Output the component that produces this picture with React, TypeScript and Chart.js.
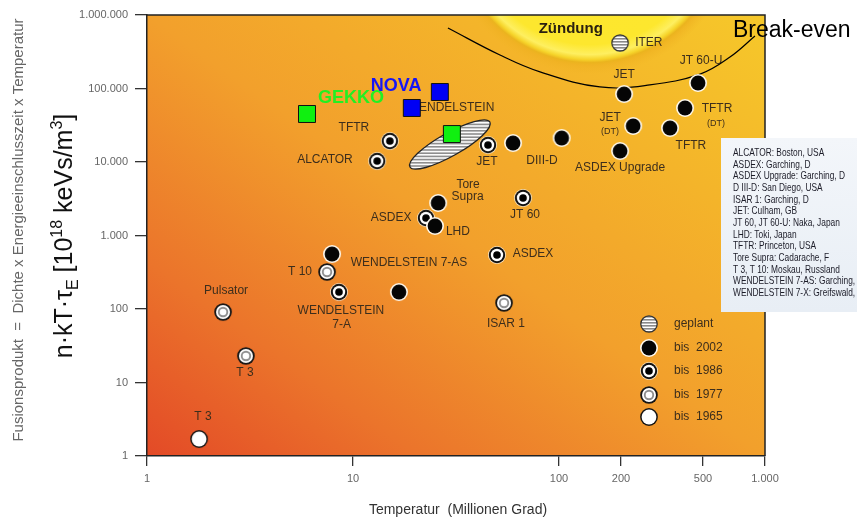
import React, { useEffect, useRef } from 'react';
import { Chart, registerables } from 'chart.js';
Chart.register(...registerables);

const FONT = '"Liberation Sans", Arial, Helvetica, sans-serif';

// axis ticks
const xTickValues = [1, 10, 100, 200, 500, 1000];
const yTickValues = [1, 10, 100, 1000, 10000, 100000, 1000000];

// experiments (temperature in million degrees, fusion product)
const plannedPoints = [{ x: 198, y: 416000 }]; // ITER
const points2002 = [
  { x: 207, y: 84100 }, // JET
  { x: 473, y: 119000 }, // JT 60-U
  { x: 409, y: 54300 }, // TFTR (DT)
  { x: 229, y: 30900 }, // JET (DT)
  { x: 346, y: 29000 }, // TFTR
  { x: 198, y: 14100 }, // ASDEX Upgrade
  { x: 59.8, y: 18100 }, // DIII-D
  { x: 103, y: 21200 }, // DIII-D
  { x: 25.9, y: 2770 }, // Tore Supra
  { x: 25.0, y: 1350 }, // LHD
  { x: 7.91, y: 560 }, // W 7-AS
  { x: 16.7, y: 170 }, // W 7-AS
];
const points1986 = [
  { x: 45.2, y: 17000 }, // JET
  { x: 15.1, y: 19300 }, // TFTR
  { x: 13.1, y: 10300 }, // ALCATOR
  { x: 22.6, y: 1730 }, // ASDEX
  { x: 66.9, y: 3240 }, // JT 60
  { x: 50.0, y: 543 }, // ASDEX
  { x: 8.55, y: 170 }, // W 7-A
];
const points1977 = [
  { x: 7.48, y: 319 }, // T 10
  { x: 54.1, y: 121 }, // ISAR 1
  { x: 2.34, y: 91 }, // Pulsator
  { x: 3.02, y: 23.0 }, // T 3
];
const points1965 = [{ x: 1.79, y: 1.7 }]; // T 3
const gekkoPoints = [
  { x: 5.98, y: 45000 },
  { x: 30.2, y: 24000 },
];
const novaPoints = [
  { x: 19.3, y: 54300 },
  { x: 26.4, y: 89600 },
];
// Wendelstein 7-X planned region (ellipse ends)
const w7xEnds = [
  { x: 18.9, y: 8550 },
  { x: 46.2, y: 35000 },
];
// Break-even curve
const breakEvenX = [28.9, 51.7, 80.9, 158, 276, 484, 676, 894];
const breakEvenY = [665000, 285000, 168000, 105000, 112000, 157000, 268000, 518000];
// Ignition region centre
const ignitionCentre = { x: 141, y: 1.5e7 };

// annotation labels
const labelTexts = [
  'Zündung', 'ITER', 'JET', 'JT 60-U', 'TFTR', '(DT)', 'JET', '(DT)', 'TFTR', 'ASDEX Upgrade',
  'DIII-D', 'JET', 'Tore', 'Supra', 'JT 60', 'LHD', 'ASDEX', 'ASDEX', 'TFTR', 'ALCATOR',
  'WENDELSTEIN', 'WENDELSTEIN 7-AS', 'T 10', 'WENDELSTEIN', '7-A', 'Pulsator', 'T 3', 'T 3', 'ISAR 1',
  'GEKKO', 'NOVA',
];
const labelX = [
  114, 273, 207, 489, 585, 578, 177, 177, 437, 198,
  82.7, 44.7, 36.2, 36, 68.4, 32.3, 15.3, 74.8, 10.1, 7.31,
  29.9, 18.7, 5.53, 8.74, 8.8, 2.42, 2.99, 1.87, 55.3,
  9.78, 16.2,
];
const labelY = [
  645000, 416000, 153000, 237000, 52600, 33900, 39700, 25600, 16500, 8290,
  10300, 10000, 4860, 3340, 1900, 1115, 1730, 560, 29000, 10600,
  54300, 423, 319, 94, 60.6, 176, 13.5, 3.4, 62.5,
  74300, 108000,
];
const labelKind = [
  'title', 'std', 'std', 'std', 'std', 'small', 'std', 'small', 'std', 'std',
  'std', 'std', 'std', 'std', 'std', 'std', 'std', 'std', 'std', 'std',
  'std', 'std', 'std', 'std', 'std', 'std', 'std', 'std', 'std',
  'gekko', 'nova',
];

const legendLabels = ['geplant', 'bis  2002', 'bis  1986', 'bis  1977', 'bis  1965'];
const infoLines = [
  'ALCATOR: Boston, USA',
  'ASDEX: Garching, D',
  'ASDEX Upgrade: Garching, D',
  'D III-D: San Diego, USA',
  'ISAR 1: Garching, D',
  'JET: Culham, GB',
  'JT 60, JT 60-U: Naka, Japan',
  'LHD: Toki, Japan',
  'TFTR: Princeton, USA',
  'Tore Supra: Cadarache, F',
  'T 3, T 10: Moskau, Russland',
  'WENDELSTEIN 7-AS: Garching, D',
  'WENDELSTEIN 7-X: Greifswald, D',
];

const fmt = (v: number) => String(Math.round(v)).replace(/\B(?=(\d{3})+(?!\d))/g, '.');

function makeMarker(kind: string): HTMLCanvasElement {
  const c = document.createElement('canvas');
  c.width = 20;
  c.height = 20;
  const g = c.getContext('2d')!;
  const cx = 10, cy = 10;
  const circ = (r: number, col: string) => {
    g.beginPath();
    g.arc(cx, cy, r, 0, Math.PI * 2);
    g.fillStyle = col;
    g.fill();
  };
  if (kind === '2002') {
    circ(9, '#fffaf0');
    circ(7.4, '#050505');
  } else if (kind === '1986') {
    circ(9, 'rgba(255,250,240,0.8)');
    circ(8.2, '#111');
    circ(6.2, '#fff');
    circ(3.8, '#000');
  } else if (kind === '1977') {
    circ(8.8, '#151515');
    circ(7, '#fff');
    circ(5.2, '#8e8e8e');
    circ(3.3, '#fff');
  } else if (kind === '1965') {
    circ(8.9, '#151515');
    circ(7.4, '#fff');
  } else {
    g.save();
    g.beginPath();
    g.arc(cx, cy, 8.2, 0, Math.PI * 2);
    g.clip();
    g.fillStyle = '#fff';
    g.fillRect(0, 0, 20, 20);
    g.fillStyle = '#8a8a8a';
    for (let y = 2; y < 19; y += 3) g.fillRect(0, y, 20, 1.6);
    g.restore();
    g.beginPath();
    g.arc(cx, cy, 8.2, 0, Math.PI * 2);
    g.strokeStyle = '#333';
    g.lineWidth = 1.3;
    g.stroke();
  }
  return c;
}

const labelStyle: Record<string, { font: string; color: string }> = {
  std: { font: `12px ${FONT}`, color: '#3d2e1c' },
  small: { font: `9px ${FONT}`, color: '#3d2e1c' },
  title: { font: `bold 15px ${FONT}`, color: '#2a2010' },
  gekko: { font: `bold 18px ${FONT}`, color: '#22f022' },
  nova: { font: `bold 18px ${FONT}`, color: '#1515f5' },
};

export default function App() {
  const ref = useRef<HTMLCanvasElement>(null);
  useEffect(() => {
    const canvas = ref.current!;
    const mk = {
      planned: makeMarker('planned'),
      m2002: makeMarker('2002'),
      m1986: makeMarker('1986'),
      m1977: makeMarker('1977'),
      m1965: makeMarker('1965'),
    };
    const legendMarkers = [mk.planned, mk.m2002, mk.m1986, mk.m1977, mk.m1965];

    const bgPlugin = {
      id: 'bg',
      beforeDraw(chart: any) {
        const { ctx, chartArea: a } = chart;
        const w = a.right - a.left, h = a.bottom - a.top;
        const k = (w * h + h * w) / (h * h + w * w);
        const gr = ctx.createLinearGradient(a.left, a.bottom, a.left + h * k, a.bottom - w * k);
        gr.addColorStop(0, '#e34a27');
        gr.addColorStop(0.22, '#eb742b');
        gr.addColorStop(0.5, '#f2a02c');
        gr.addColorStop(0.75, '#f4b42a');
        gr.addColorStop(1, '#f6c82a');
        ctx.save();
        ctx.fillStyle = gr;
        ctx.fillRect(a.left, a.top, w, h);
        ctx.restore();
      },
      beforeDatasetsDraw(chart: any) {
        const { ctx, chartArea: a, scales } = chart;
        const xs = scales.x, ys = scales.y;
        ctx.save();
        ctx.beginPath();
        ctx.rect(a.left, a.top, a.right - a.left, a.bottom - a.top);
        ctx.clip();
        // ignition sun
        const sx = xs.getPixelForValue(ignitionCentre.x);
        const sy = ys.getPixelForValue(ignitionCentre.y);
        const R = 134, G = 12, Rt = R + G;
        const rg = ctx.createRadialGradient(sx, sy, 0, sx, sy, Rt);
        rg.addColorStop(0, '#fde62c');
        rg.addColorStop((R - 18) / Rt, '#fde72e');
        rg.addColorStop((R - 8) / Rt, '#feef60');
        rg.addColorStop((R - 3) / Rt, '#f6d42a');
        rg.addColorStop(R / Rt, '#ebb41e');
        rg.addColorStop((R + 3) / Rt, 'rgba(238,176,32,0.6)');
        rg.addColorStop(1, 'rgba(240,180,35,0)');
        ctx.fillStyle = rg;
        ctx.beginPath();
        ctx.arc(sx, sy, Rt, 0, Math.PI * 2);
        ctx.fill();
        // W7-X planned ellipse
        const p1 = { x: xs.getPixelForValue(w7xEnds[0].x), y: ys.getPixelForValue(w7xEnds[0].y) };
        const p2 = { x: xs.getPixelForValue(w7xEnds[1].x), y: ys.getPixelForValue(w7xEnds[1].y) };
        const ecx = (p1.x + p2.x) / 2, ecy = (p1.y + p2.y) / 2;
        const ang = Math.atan2(p2.y - p1.y, p2.x - p1.x);
        const ea = Math.hypot(p2.x - p1.x, p2.y - p1.y) / 2;
        const eb = 11.5;
        ctx.save();
        ctx.beginPath();
        ctx.ellipse(ecx, ecy, ea, eb, ang, 0, Math.PI * 2);
        ctx.clip();
        ctx.fillStyle = '#fbfbfb';
        ctx.fillRect(ecx - ea - 2, ecy - ea - 2, 2 * ea + 4, 2 * ea + 4);
        ctx.fillStyle = '#8e8e8e';
        for (let y = Math.floor(ecy - ea); y < ecy + ea; y += 3.2) ctx.fillRect(ecx - ea - 2, y, 2 * ea + 4, 1.6);
        ctx.restore();
        ctx.beginPath();
        ctx.ellipse(ecx, ecy, ea, eb, ang, 0, Math.PI * 2);
        ctx.strokeStyle = '#222';
        ctx.lineWidth = 1.3;
        ctx.stroke();
        // labels
        ctx.textAlign = 'center';
        ctx.textBaseline = 'middle';
        labelTexts.forEach((t, i) => {
          const st = labelStyle[labelKind[i]];
          ctx.font = st.font;
          ctx.fillStyle = st.color;
          ctx.fillText(t, xs.getPixelForValue(labelX[i]), ys.getPixelForValue(labelY[i]));
        });
        ctx.restore();
      },
      afterDatasetsDraw(chart: any) {
        const { ctx, chartArea: a } = chart;
        ctx.save();
        // frame top/right
        ctx.strokeStyle = '#222';
        ctx.lineWidth = 1.5;
        ctx.beginPath();
        ctx.moveTo(a.left, a.top);
        ctx.lineTo(a.right, a.top);
        ctx.lineTo(a.right, a.bottom);
        ctx.stroke();
        // in-plot legend
        const lys = [132, 108, 85, 61, 39];
        ctx.font = `12px ${FONT}`;
        ctx.fillStyle = '#3d2e1c';
        ctx.textAlign = 'left';
        ctx.textBaseline = 'middle';
        legendLabels.forEach((t, i) => {
          const y = a.bottom - lys[i];
          ctx.drawImage(legendMarkers[i], a.right - 116 - 10, y - 10);
          ctx.fillText(t, a.right - 91, y);
        });
        ctx.restore();
      },
      afterDraw(chart: any) {
        const { ctx, chartArea: a, width } = chart;
        ctx.save();
        // info box
        const bx = a.right - 44, by = a.top + 123, bh = 174;
        const ig = ctx.createLinearGradient(bx, by, bx, by + bh);
        ig.addColorStop(0, '#f3f6fa');
        ig.addColorStop(1, '#e8eef5');
        ctx.fillStyle = ig;
        ctx.fillRect(bx, by, width - bx, bh);
        ctx.fillStyle = '#1c1c28';
        ctx.textAlign = 'left';
        ctx.textBaseline = 'middle';
        ctx.font = `11px ${FONT}`;
        infoLines.forEach((t, i) => {
          ctx.save();
          ctx.translate(bx + 12, by + 15 + i * 11.67);
          ctx.scale(0.76, 1);
          ctx.fillText(t, 0, 0);
          ctx.restore();
        });
        // Break-even label
        ctx.font = `23px ${FONT}`;
        ctx.fillStyle = '#000';
        ctx.fillText('Break-even', a.right - 32, a.top + 16);
        // x title
        ctx.font = `14px ${FONT}`;
        ctx.fillStyle = '#333';
        ctx.textAlign = 'center';
        ctx.fillText('Temperatur  (Millionen Grad)', 458, 510);
        // small y title
        ctx.save();
        ctx.translate(19, 230);
        ctx.rotate(-Math.PI / 2);
        ctx.font = `15px ${FONT}`;
        ctx.fillStyle = '#666';
        ctx.textAlign = 'center';
        ctx.textBaseline = 'middle';
        ctx.fillText('Fusionsprodukt  =  Dichte x Energieeinschlusszeit x Temperatur', 0, 0);
        ctx.restore();
        // big y title with sub/superscripts
        ctx.save();
        ctx.translate(72, 236);
        ctx.rotate(-Math.PI / 2);
        ctx.fillStyle = '#111';
        ctx.textAlign = 'left';
        ctx.textBaseline = 'alphabetic';
        const big = `25px ${FONT}`, sm = `16px ${FONT}`;
        const parts: [string, string, number][] = [
          ['n·kT·τ', big, 0],
          ['E', sm, 6],
          [' [10', big, 0],
          ['18', sm, -10],
          [' keVs/m', big, 0],
          ['3', sm, -10],
          [']', big, 0],
        ];
        let total = 0;
        parts.forEach(([t, f]) => { ctx.font = f; total += ctx.measureText(t).width; });
        let cx = -total / 2;
        parts.forEach(([t, f, dy]) => {
          ctx.font = f;
          ctx.fillText(t, cx, dy);
          cx += ctx.measureText(t).width;
        });
        ctx.restore();
        ctx.restore();
      },
    };

    const chart = new Chart(canvas, {
      type: 'scatter',
      data: {
        datasets: [
          { label: 'GEKKO', data: gekkoPoints, pointStyle: 'rect', pointRadius: 12, backgroundColor: '#10f010', borderColor: '#111', borderWidth: 1, order: 0 },
          { label: 'NOVA', data: novaPoints, pointStyle: 'rect', pointRadius: 12, backgroundColor: '#0000f5', borderColor: '#111', borderWidth: 1, order: 0 },
          { label: 'geplant', data: plannedPoints, pointStyle: mk.planned, order: 1 },
          { label: 'bis 2002', data: points2002, pointStyle: mk.m2002, order: 2 },
          { label: 'bis 1986', data: points1986, pointStyle: mk.m1986, order: 3 },
          { label: 'bis 1977', data: points1977, pointStyle: mk.m1977, order: 4 },
          { label: 'bis 1965', data: points1965, pointStyle: mk.m1965, order: 5 },
          {
            label: 'Break-even',
            data: breakEvenX.map((x, i) => ({ x, y: breakEvenY[i] })),
            showLine: true,
            pointRadius: 0,
            borderColor: '#000',
            borderWidth: 1.2,
            tension: 0.4,
            order: 6,
          },
        ] as any,
      },
      options: {
        animation: false,
        responsive: true,
        maintainAspectRatio: false,
        layout: { padding: { left: 0, top: 15, right: 92, bottom: 0 } },
        plugins: { legend: { display: false }, tooltip: { enabled: false } },
        events: [],
        scales: {
          x: {
            type: 'logarithmic',
            min: 1,
            max: 1000,
            afterBuildTicks: (s: any) => { s.ticks = xTickValues.map((v) => ({ value: v })); },
            afterFit: (s: any) => { s.height = 66; },
            grid: { drawOnChartArea: false, drawTicks: true, tickLength: 10, color: '#333', lineWidth: 1.3 },
            border: { display: true, color: '#222', width: 1.5 },
            ticks: {
              callback: (v: any) => fmt(Number(v)),
              color: '#666',
              font: { family: FONT, size: 11 },
              padding: 6,
              autoSkip: false,
              maxRotation: 0,
            },
          },
          y: {
            type: 'logarithmic',
            min: 1,
            max: 1000000,
            afterBuildTicks: (s: any) => { s.ticks = yTickValues.map((v) => ({ value: v })); },
            afterFit: (s: any) => { s.width = 147; },
            grid: { drawOnChartArea: false, drawTicks: true, tickLength: 12, color: '#333', lineWidth: 1.3 },
            border: { display: true, color: '#222', width: 1.5 },
            ticks: {
              callback: (v: any) => fmt(Number(v)),
              color: '#666',
              font: { family: FONT, size: 11 },
              padding: 7,
              autoSkip: false,
            },
          },
        },
      } as any,
      plugins: [bgPlugin],
    });
    return () => chart.destroy();
  }, []);
  return (
    <div style={{ position: 'absolute', left: 0, top: 0, width: 857, height: 522, background: '#fff' }}>
      <canvas ref={ref} />
    </div>
  );
}
